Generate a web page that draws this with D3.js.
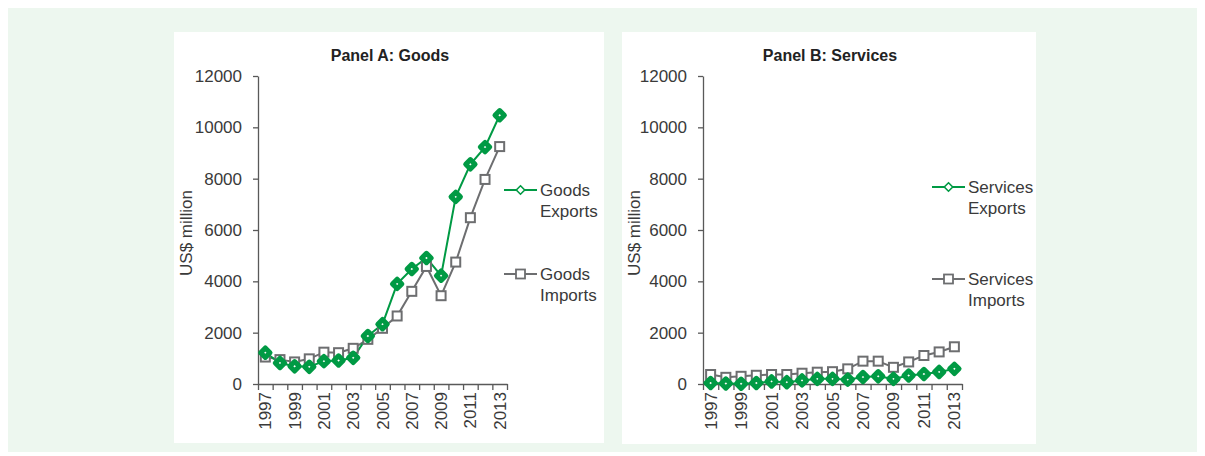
<!DOCTYPE html>
<html>
<head>
  <meta charset="utf-8">
  <title>Goods and services trade</title>
  <style>
    body { margin: 0; background: #fff; }
    svg text { font-family: "Liberation Sans Narrow", "Arial Narrow", "Liberation Sans", sans-serif; fill: #3a3a3a; }
  </style>
</head>
<body>
  <svg width="1205" height="456"></svg>
  <script src="https://d3js.org/d3.v7.min.js"></script>
  <script>
    // data (US$ million)
    var years = d3.range(1997, 2014);
    var yTicks = [0, 2000, 4000, 6000, 8000, 10000, 12000];
    var goodsExports = [1220, 820, 690, 670, 890, 915, 1020, 1870, 2330, 3900, 4480, 4910, 4220, 7290, 8560, 9230, 10470];
    var goodsImports = [1050, 950, 860, 980, 1240, 1220, 1390, 1740, 2170, 2650, 3610, 4580, 3440, 4750, 6480, 7970, 9250];
    var servicesExports = [40, 20, 10, 40, 100, 70, 140, 200, 200, 170, 270, 300, 200, 330, 390, 470, 590];
    var servicesImports = [370, 260, 300, 340, 370, 370, 420, 460, 480, 590, 890, 890, 650, 860, 1110, 1250, 1450];

    var green = "#009a44";
    var grey = "#6d6e70";
    var axisCol = "#595959";

    var svg = d3.select("svg");
    svg.append("rect").attr("x", 8).attr("y", 8).attr("width", 1189).attr("height", 444).attr("fill", "#edf7ef");

    var panels = [
      { title: "Panel A: Goods", box: [174, 32, 430, 411], x0: 258, x1: 507, legX: 504, legY: [190, 274],
        names: [["Goods", "Exports"], ["Goods", "Imports"]], exp: goodsExports, imp: goodsImports },
      { title: "Panel B: Services", box: [622, 32, 414, 412], x0: 703, x1: 962, legX: 932, legY: [187, 279],
        names: [["Services", "Exports"], ["Services", "Imports"]], exp: servicesExports, imp: servicesImports }
    ];

    var y = d3.scaleLinear().domain([0, 12000]).range([384, 76]);

    panels.forEach(function (p) {
      var g = svg.append("g");
      g.append("rect").attr("x", p.box[0]).attr("y", p.box[1]).attr("width", p.box[2]).attr("height", p.box[3]).attr("fill", "#fff");

      g.append("text").attr("x", p.box[0] + p.box[2] / 2 + 1).attr("y", 61)
        .attr("text-anchor", "middle").style("font-weight", "bold").style("font-size", "16px")
        .style("fill", "#222").text(p.title);

      var x = d3.scaleBand().domain(years).range([p.x0, p.x1]);
      var xt = d3.scaleLinear().domain([0, years.length]).range([p.x0, p.x1]);

      // y axis
      var ya = g.append("g").attr("transform", "translate(" + p.x0 + ",0)")
        .call(d3.axisLeft(y).tickValues(yTicks).tickFormat(d3.format("d")).tickSize(5).tickPadding(11).tickSizeOuter(0));
      ya.selectAll("text").style("font-size", "17px").style("fill", "#3a3a3a");

      // x axis ticks between categories
      var xa = g.append("g").attr("transform", "translate(0," + y(0) + ")")
        .call(d3.axisBottom(xt).tickValues(d3.range(0, years.length + 1)).tickSize(6).tickFormat("").tickSizeOuter(0));
      // x labels
      var xl = g.append("g").attr("transform", "translate(0," + y(0) + ")")
        .call(d3.axisBottom(x).tickValues(years.filter(function (d) { return d % 2 === 1; })).tickSize(0));
      xl.select(".domain").remove();
      xl.selectAll("text").style("font-size", "17px").style("fill", "#3a3a3a")
        .attr("text-anchor", "end").attr("dy", null).attr("y", 0)
        .attr("transform", "translate(6,8) rotate(-90)");

      [ya, xa].forEach(function (a) {
        a.selectAll("line, path").attr("stroke", axisCol).attr("stroke-width", 1.3);
      });

      g.append("text").attr("transform", "translate(" + (p.box[0] + 18) + ",233) rotate(-90)")
        .attr("text-anchor", "middle").style("font-size", "17px").text("US$ million");

      var line = d3.line().x(function (d, i) { return x(years[i]) + x.bandwidth() / 2; }).y(function (d) { return y(d); });

      // imports
      g.append("path").datum(p.imp).attr("d", line).attr("fill", "none").attr("stroke", grey).attr("stroke-width", 2);
      // exports
      g.append("path").datum(p.exp).attr("d", line).attr("fill", "none").attr("stroke", green).attr("stroke-width", 2);

      g.selectAll(".imp").data(p.imp).enter().append("rect")
        .attr("x", function (d, i) { return x(years[i]) + x.bandwidth() / 2 - 4.5; })
        .attr("y", function (d) { return y(d) - 4.5; })
        .attr("width", 9).attr("height", 9)
        .attr("fill", "#fff").attr("stroke", grey).attr("stroke-width", 2);

      var diamond = d3.symbol().type(d3.symbolDiamond2).size(56);
      g.selectAll(".exp").data(p.exp).enter().append("path")
        .attr("d", diamond)
        .attr("transform", function (d, i) { return "translate(" + (x(years[i]) + x.bandwidth() / 2) + "," + y(d) + ")"; })
        .attr("fill", "#fff").attr("stroke", green).attr("stroke-width", 5).attr("stroke-linejoin", "round");

      // legend
      var lg = g.append("g");
      var l1 = p.legY[0], l2 = p.legY[1];
      lg.append("line").attr("x1", p.legX).attr("x2", p.legX + 33).attr("y1", l1).attr("y2", l1).attr("stroke", green).attr("stroke-width", 2);
      lg.append("path").attr("d", d3.symbol().type(d3.symbolDiamond2).size(45))
        .attr("transform", "translate(" + (p.legX + 16.5) + "," + l1 + ")")
        .attr("fill", "#fff").attr("stroke", green).attr("stroke-width", 1.6);
      lg.append("line").attr("x1", p.legX).attr("x2", p.legX + 33).attr("y1", l2).attr("y2", l2).attr("stroke", grey).attr("stroke-width", 2);
      lg.append("rect").attr("x", p.legX + 12).attr("y", l2 - 4.5).attr("width", 9).attr("height", 9)
        .attr("fill", "#fff").attr("stroke", grey).attr("stroke-width", 1.8);

      [l1, l2].forEach(function (ly, k) {
        var t = lg.append("text").attr("x", p.legX + 36).attr("y", ly + 6).style("font-size", "17px");
        t.append("tspan").text(p.names[k][0]);
        t.append("tspan").attr("x", p.legX + 36).attr("dy", 21).text(p.names[k][1]);
      });
    });
  </script>
</body>
</html>
